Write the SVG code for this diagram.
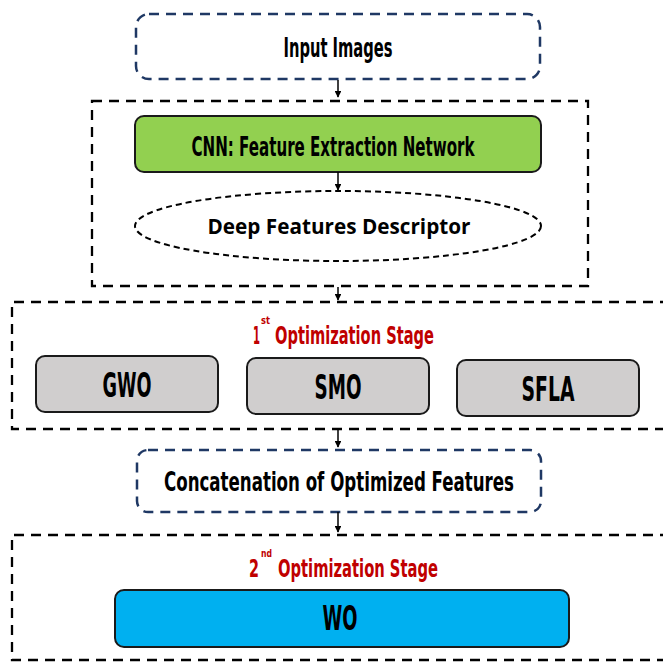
<svg xmlns="http://www.w3.org/2000/svg" width="663" height="664" viewBox="0 0 663 664">
  <defs>
    <marker id="arrow" viewBox="0 0 10 10" refX="9" refY="5" markerWidth="4.5" markerHeight="4.5" orient="auto">
      <path d="M0,0 L10,5 L0,10 z" fill="#000"/>
    </marker>
    <style>
      .frame { fill: none; stroke: #000; stroke-width: 2.3; stroke-dasharray: 10 7; }
      .navy { fill: #fff; stroke: #1f3864; stroke-width: 2.5; stroke-dasharray: 10 7; }
      .solid { stroke: #1a1a1a; stroke-width: 2; }
      .cond { font-family: "DejaVu Sans Condensed", "Liberation Sans Narrow", "Liberation Sans", sans-serif; font-weight: bold; fill: #000; text-anchor: middle; }
      .left { text-anchor: start; }
      .red { fill: #c00000; }
      .desc { font-family: "Open Sans", "Liberation Sans", sans-serif; font-weight: bold; font-size: 22px; fill: #000; text-anchor: middle; }
      .conn { stroke: #000; stroke-width: 1.5; fill: none; marker-end: url(#arrow); }
    </style>
  </defs>

  <rect width="663" height="664" fill="#fff"/>

  <!-- outer stage frames -->
  <g id="frame-cnn">
    <rect class="frame" x="92" y="101" width="496" height="185"/>
  </g>
  <g id="frame-stage1">
    <path class="frame" d="M670,302 H12 V429 H670"/>
  </g>
  <g id="frame-stage2">
    <path class="frame" d="M670,535 H12 V660 H670"/>
  </g>

  <!-- nodes -->
  <g id="input-images">
    <rect class="navy" x="136" y="14" width="404" height="65" rx="13"/>
    <text class="cond" x="338" y="57" font-size="27" textLength="109" lengthAdjust="spacingAndGlyphs">Input Images</text>
  </g>

  <g id="cnn">
    <rect class="solid" x="135" y="116" width="406" height="56" rx="9" fill="#92d050"/>
    <text class="cond" x="333" y="156" font-size="27" textLength="283" lengthAdjust="spacingAndGlyphs">CNN: Feature Extraction Network</text>
  </g>

  <g id="deep-features">
    <ellipse cx="338" cy="226" rx="203" ry="35" fill="#fff" stroke="#000" stroke-width="2" stroke-dasharray="6 4"/>
    <text class="desc" x="339" y="234" textLength="263" lengthAdjust="spacingAndGlyphs">Deep Features Descriptor</text>
  </g>

  <g id="stage1-title">
    <text class="cond red left" x="253" y="344" font-size="25" textLength="7" lengthAdjust="spacingAndGlyphs">1</text>
    <text class="cond red left" x="261" y="324" font-size="11" textLength="9" lengthAdjust="spacingAndGlyphs">st</text>
    <text class="cond red left" x="275" y="344" font-size="25" textLength="159" lengthAdjust="spacingAndGlyphs">Optimization Stage</text>
  </g>

  <g id="gwo">
    <rect class="solid" x="36" y="356" width="182" height="56" rx="9" fill="#d0cece"/>
    <text class="cond" x="127" y="397" font-size="33" textLength="49" lengthAdjust="spacingAndGlyphs">GWO</text>
  </g>
  <g id="smo">
    <rect class="solid" x="247" y="358" width="182" height="56" rx="9" fill="#d0cece"/>
    <text class="cond" x="338" y="399" font-size="33" textLength="47" lengthAdjust="spacingAndGlyphs">SMO</text>
  </g>
  <g id="sfla">
    <rect class="solid" x="457" y="360" width="182" height="56" rx="9" fill="#d0cece"/>
    <text class="cond" x="548" y="401" font-size="33" textLength="53" lengthAdjust="spacingAndGlyphs">SFLA</text>
  </g>

  <g id="concatenation">
    <rect class="navy" x="137" y="450" width="404" height="62" rx="11"/>
    <text class="cond" x="339" y="491" font-size="27" textLength="350" lengthAdjust="spacingAndGlyphs">Concatenation of Optimized Features</text>
  </g>

  <g id="stage2-title">
    <text class="cond red left" x="249" y="577" font-size="25" textLength="10" lengthAdjust="spacingAndGlyphs">2</text>
    <text class="cond red left" x="261" y="557" font-size="11" textLength="11" lengthAdjust="spacingAndGlyphs">nd</text>
    <text class="cond red left" x="278" y="577" font-size="25" textLength="160" lengthAdjust="spacingAndGlyphs">Optimization Stage</text>
  </g>

  <g id="wo">
    <rect class="solid" x="115" y="590" width="454" height="57" rx="9" fill="#00b0f0"/>
    <text class="cond" x="340" y="630" font-size="34" textLength="35" lengthAdjust="spacingAndGlyphs">WO</text>
  </g>

  <!-- connectors -->
  <g id="connectors">
    <line class="conn" x1="338" y1="80" x2="338" y2="97"/>
    <line class="conn" x1="338" y1="172" x2="338" y2="190"/>
    <line class="conn" x1="338" y1="287" x2="338" y2="300"/>
    <line class="conn" x1="338" y1="430" x2="338" y2="447"/>
    <line class="conn" x1="338" y1="512" x2="338" y2="532"/>
  </g>
</svg>
